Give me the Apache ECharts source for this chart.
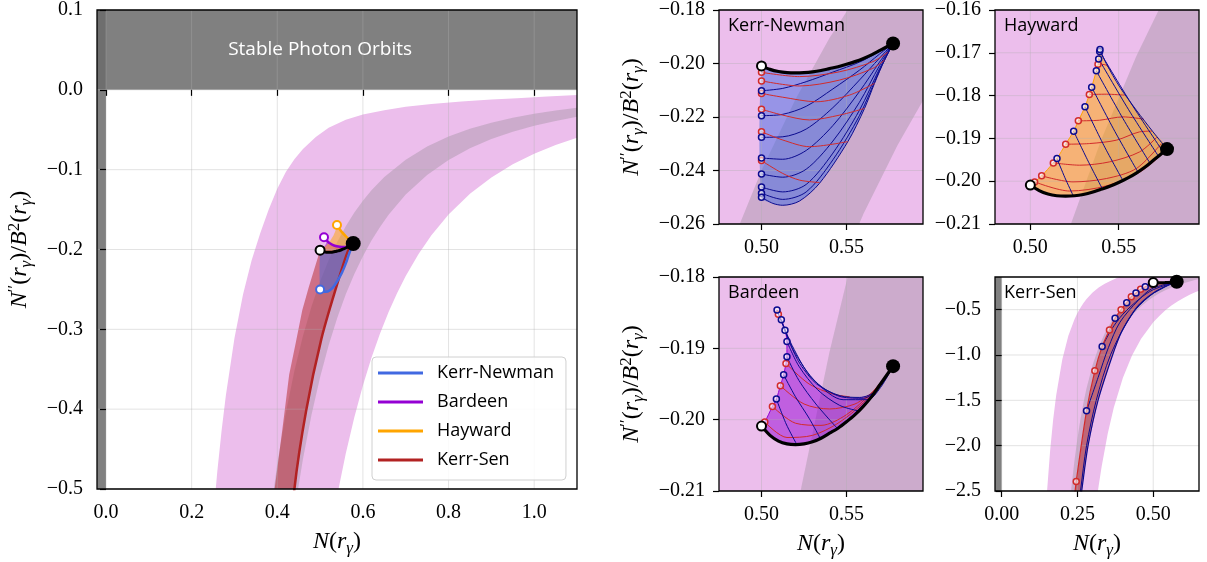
<!DOCTYPE html>
<html>
<head>
<meta charset="utf-8">
<script src="https://cdn.jsdelivr.net/npm/echarts@6/dist/echarts.min.js"></script>
<style>
html,body{margin:0;padding:0;background:#fff;}
#c{width:1207px;height:562px;}
</style>
</head>
<body>
<div id="c"></div>
<script>
// ---------- tick values ----------
const mainXTicks = [0, 0.2, 0.4, 0.6, 0.8, 1.0];
const mainYTicks = [-0.5, -0.4, -0.3, -0.2, -0.1, 0, 0.1];
const knXTicks = [0.5, 0.55];
const knYTicks = [-0.26, -0.24, -0.22, -0.20, -0.18];
const hayXTicks = [0.5, 0.55];
const hayYTicks = [-0.21, -0.20, -0.19, -0.18, -0.17, -0.16];
const bardXTicks = [0.5, 0.55];
const bardYTicks = [-0.21, -0.20, -0.19, -0.18];
const ksXTicks = [0, 0.25, 0.5];
const ksYTicks = [-2.5, -2.0, -1.5, -1.0, -0.5];

// ---------- region limits ----------
const stableFloor = 0;      // N''/B^2 > 0 : stable photon orbits
const horizonN = 0;         // N < 0 excluded

// ---------- observational bands (edges) ----------
const pinkUpper = [[0.14,-3.0612],[0.15,-2.4889],[0.16,-2.0508],[0.17,-1.7098],[0.18,-1.4403],[0.20,-1.05],[0.22,-0.7889],[0.24,-0.6076],[0.25,-0.5376],[0.26,-0.4779],[0.27,-0.4268],[0.28,-0.3827],[0.30,-0.3111],[0.32,-0.2563],[0.34,-0.2137],[0.36,-0.180],[0.38,-0.150],[0.40,-0.124],[0.42,-0.103],[0.44,-0.087],[0.46,-0.074],[0.49,-0.059],[0.52,-0.0475],[0.56,-0.0375],[0.60,-0.031],[0.65,-0.0255],[0.70,-0.0213],[0.76,-0.0178],[0.83,-0.0146],[0.90,-0.0122],[0.96,-0.0104],[1.03,-0.0085],[1.10,-0.0066],[1.15,-0.0056]];
const pinkLower = [[0.31,-2.6854],[0.32,-2.4414],[0.33,-2.2261],[0.35,-1.8659],[0.37,-1.5794],[0.40,-1.25],[0.43,-1.0062],[0.46,-0.8219],[0.50,-0.64],[0.52,-0.5690],[0.54,-0.5080],[0.56,-0.4555],[0.58,-0.4100],[0.60,-0.3704],[0.62,-0.3357],[0.64,-0.3052],[0.66,-0.2783],[0.68,-0.2544],[0.70,-0.2332],[0.73,-0.2056],[0.76,-0.1822],[0.80,-0.1563],[0.85,-0.1303],[0.90,-0.1097],[0.95,-0.0933],[1.00,-0.0800],[1.05,-0.0691],[1.10,-0.0601],[1.15,-0.0526]];
const grayUpper = [[0.22,-2.8174],[0.23,-2.4657],[0.24,-2.1701],[0.25,-1.92],[0.26,-1.7069],[0.27,-1.5242],[0.28,-1.3666],[0.30,-1.1111],[0.32,-0.9155],[0.34,-0.7633],[0.36,-0.6430],[0.38,-0.5467],[0.40,-0.4688],[0.42,-0.4049],[0.44,-0.3522],[0.46,-0.3082],[0.48,-0.2713],[0.50,-0.2400],[0.52,-0.2134],[0.54,-0.1905],[0.56,-0.1708],[0.58,-0.1538],[0.60,-0.1389],[0.62,-0.1259],[0.65,-0.1092],[0.70,-0.0875],[0.75,-0.0711],[0.80,-0.0586],[0.85,-0.0488],[0.90,-0.0412],[0.95,-0.0350],[1.00,-0.0300],[1.05,-0.0259],[1.10,-0.0225],[1.15,-0.0197]];
const grayLower = [[0.25,-2.88],[0.26,-2.5603],[0.27,-2.2862],[0.28,-2.0499],[0.30,-1.6667],[0.32,-1.3733],[0.34,-1.1449],[0.36,-0.9645],[0.38,-0.8201],[0.40,-0.7031],[0.42,-0.6074],[0.44,-0.5283],[0.46,-0.4623],[0.48,-0.4069],[0.50,-0.3600],[0.52,-0.3200],[0.54,-0.2858],[0.56,-0.2562],[0.58,-0.2306],[0.60,-0.2083],[0.62,-0.1888],[0.64,-0.1717],[0.66,-0.1565],[0.70,-0.1312],[0.75,-0.1067],[0.80,-0.0879],[0.85,-0.0733],[0.90,-0.0617],[0.95,-0.0525],[1.00,-0.0450],[1.05,-0.0389],[1.10,-0.0338],[1.15,-0.0296]];

// ---------- reference points and the non-rotating curve ----------
const schwarzschild = [[0.5774,-0.1925]];
const extremalRN = [[0.5,-0.2009]];
const blackCurve = [[0.5,-0.2009],[0.505,-0.2022],[0.51,-0.2030],[0.515,-0.2034],[0.52,-0.2035],[0.525,-0.2034],[0.53,-0.2031],[0.535,-0.2026],[0.54,-0.2019],[0.545,-0.2012],[0.55,-0.2003],[0.555,-0.1993],[0.56,-0.1981],[0.565,-0.1967],[0.57,-0.1950],[0.5774,-0.1925]];

// ---------- Kerr-Newman ----------
const knEdge = [[0.5,-0.2500],[0.5067,-0.2523],[0.5125,-0.2530],[0.5224,-0.2514],[0.5341,-0.2448],[0.5508,-0.2292],[0.5606,-0.2168],[0.5665,-0.2074],[0.5724,-0.1987],[0.5774,-0.1925]];
const knBlue = [
  [[0.5,-0.2102],[0.5125,-0.2093],[0.5263,-0.2068],[0.542,-0.2032],[0.5576,-0.1995],[0.5694,-0.1955],[0.5774,-0.1925]],
  [[0.5,-0.2195],[0.5125,-0.2190],[0.5263,-0.2160],[0.542,-0.2095],[0.5576,-0.2025],[0.5694,-0.1965],[0.5774,-0.1925]],
  [[0.5,-0.2276],[0.5125,-0.2274],[0.5263,-0.2245],[0.542,-0.2165],[0.5576,-0.2062],[0.5694,-0.1980],[0.5774,-0.1925]],
  [[0.5,-0.2353],[0.5125,-0.2358],[0.5263,-0.2325],[0.542,-0.2232],[0.5576,-0.2105],[0.5694,-0.1995],[0.5774,-0.1925]],
  [[0.5,-0.2413],[0.5125,-0.2425],[0.5263,-0.2395],[0.542,-0.2290],[0.5576,-0.2145],[0.5694,-0.2008],[0.5774,-0.1925]],
  [[0.5,-0.2462],[0.5125,-0.2480],[0.5263,-0.2452],[0.542,-0.2335],[0.5576,-0.2175],[0.5694,-0.2020],[0.5774,-0.1925]],
  [[0.5,-0.2485],[0.5125,-0.2508],[0.5263,-0.2480],[0.542,-0.2360],[0.5576,-0.2195],[0.5694,-0.2027],[0.5774,-0.1925]]
];
const knRed = [
  [[0.5,-0.2033],[0.5224,-0.2049],[0.5459,-0.2031],[0.5655,-0.1993],[0.5743,-0.1958]],
  [[0.5,-0.2065],[0.5224,-0.2084],[0.5459,-0.2062],[0.5655,-0.2018],[0.5724,-0.1987]],
  [[0.5,-0.2112],[0.5125,-0.2126],[0.5322,-0.2143],[0.5518,-0.2118],[0.5665,-0.2074]],
  [[0.5,-0.2171],[0.5125,-0.2193],[0.5282,-0.2211],[0.5459,-0.2193],[0.5606,-0.2168]],
  [[0.5,-0.2255],[0.5125,-0.2286],[0.5282,-0.2311],[0.5508,-0.2292]],
  [[0.5,-0.2363],[0.5125,-0.2411],[0.5224,-0.2436],[0.5341,-0.2445]]
];

// ---------- Hayward ----------
const hayLeft = [[0.5,-0.2009],[0.50245,-0.20016],[0.50642,-0.19875],[0.51302,-0.19572],[0.5151,-0.1947],[0.52001,-0.19136],[0.52454,-0.18832],[0.52718,-0.18590],[0.53096,-0.18263],[0.53341,-0.17975],[0.53473,-0.17804],[0.53737,-0.17422],[0.53832,-0.17266],[0.53869,-0.17142],[0.53926,-0.16970],[0.53945,-0.16924]];
const hayTop = [[0.53945,-0.16924],[0.5430,-0.17251],[0.55059,-0.17796],[0.56002,-0.18341],[0.56946,-0.18847],[0.5774,-0.1925]];
const hayBlue = [
  [[0.5151,-0.1947],[0.5196,-0.1992],[0.5242,-0.2033]],
  [[0.52454,-0.18832],[0.5327,-0.1953],[0.5408,-0.2018]],
  [[0.53096,-0.18263],[0.5417,-0.1917],[0.5525,-0.1999]],
  [[0.53473,-0.17804],[0.5479,-0.1884],[0.5610,-0.1979]],
  [[0.53737,-0.17422],[0.5525,-0.1854],[0.5676,-0.1957]],
  [[0.53869,-0.17142],[0.5555,-0.1832],[0.5723,-0.1940]],
  [[0.53926,-0.16970],[0.5572,-0.1819],[0.5751,-0.1931]]
];
const hayRed = [
  [[0.50245,-0.20016],[0.52227,-0.20230],[0.54304,-0.20110],[0.56191,-0.19790],[0.57607,-0.19315]],
  [[0.50642,-0.19875],[0.52416,-0.20016],[0.54304,-0.19938],[0.56002,-0.19704],[0.5742,-0.1912]],
  [[0.51302,-0.19572],[0.52793,-0.19626],[0.54492,-0.19548],[0.56191,-0.19315],[0.5717,-0.1897]],
  [[0.52001,-0.19136],[0.5336,-0.1912],[0.5487,-0.19042],[0.5619,-0.18847],[0.5689,-0.1883]],
  [[0.52718,-0.18590],[0.53926,-0.18575],[0.55247,-0.18497],[0.5642,-0.1855]],
  [[0.53341,-0.17975],[0.54304,-0.17967],[0.5534,-0.1799]],
  [[0.53832,-0.17266],[0.5430,-0.1729],[0.5455,-0.1742]]
];

// ---------- Bardeen ----------
const bardLeft = [[0.5,-0.2009],[0.50194,-0.20033],[0.50642,-0.19814],[0.50875,-0.19711],[0.51109,-0.19524],[0.51303,-0.19371],[0.51439,-0.19212],[0.51497,-0.19119],[0.51497,-0.18904],[0.51381,-0.18746],[0.51167,-0.18601],[0.50992,-0.18522],[0.50914,-0.18462]];
const bardTop = [[0.50914,-0.18462],[0.51692,-0.18942],[0.52275,-0.19221],[0.53248,-0.19501],[0.54609,-0.19664],[0.5578,-0.19688],[0.56748,-0.19594],[0.5774,-0.1925]];
const bardBlue = [
  [[0.50875,-0.19711],[0.5145,-0.2006],[0.5208,-0.2035]],
  [[0.51303,-0.19371],[0.5200,-0.1968],[0.5280,-0.1998],[0.5345,-0.2026]],
  [[0.51497,-0.19119],[0.5220,-0.1945],[0.5320,-0.1978],[0.5445,-0.2012]],
  [[0.51497,-0.18904],[0.5220,-0.1925],[0.5330,-0.1958],[0.5460,-0.1980],[0.5575,-0.1988]],
  [[0.51381,-0.18746],[0.5200,-0.1908],[0.5320,-0.1947],[0.5480,-0.1972],[0.5625,-0.1972],[0.5700,-0.1955],[0.5774,-0.1925]],
  [[0.51167,-0.18601],[0.5180,-0.1896],[0.5300,-0.1943],[0.5470,-0.1968],[0.5600,-0.1970],[0.5700,-0.1952],[0.5774,-0.1925]]
];
const bardRed = [
  [[0.50194,-0.20033],[0.5150,-0.2025],[0.5300,-0.2022],[0.5450,-0.2005],[0.5600,-0.1976],[0.5774,-0.1925]],
  [[0.50642,-0.19814],[0.5200,-0.2005],[0.5350,-0.2008],[0.5500,-0.1993],[0.5650,-0.1962],[0.5720,-0.1944]],
  [[0.51109,-0.19524],[0.5250,-0.1978],[0.5400,-0.1985],[0.5550,-0.1978],[0.5655,-0.1961]],
  [[0.51439,-0.19212],[0.5280,-0.1950],[0.5420,-0.1964],[0.5520,-0.1968]]
];
const bardBlueDots = [[0.50914,-0.18462],[0.51167,-0.18601],[0.51381,-0.18746],[0.51497,-0.18904],[0.51497,-0.19119],[0.51303,-0.19371],[0.50875,-0.19711]];
const bardRedDots = [[0.50992,-0.18522],[0.51439,-0.19212],[0.51109,-0.19524],[0.50642,-0.19814],[0.50194,-0.20033]];

// ---------- Kerr-Sen ----------
const ksLeft = [[0.2378,-2.65],[0.246,-2.394],[0.280,-1.616],[0.3074,-1.175],[0.3315,-0.907],[0.3556,-0.724],[0.3742,-0.595],[0.3939,-0.500],[0.4125,-0.423],[0.4278,-0.357],[0.4431,-0.317],[0.4584,-0.276],[0.4737,-0.247],[0.5,-0.2009]];
const ksRight = [[0.258,-2.65],[0.264,-2.5],[0.285,-2.0],[0.318,-1.5],[0.366,-1.0],[0.395,-0.75],[0.440,-0.5],[0.4675,-0.4016],[0.503,-0.312],[0.539,-0.245],[0.566,-0.2005],[0.5774,-0.1925]];
const ksBlue = [
  [[0.280,-1.616],[0.318,-1.25],[0.352,-0.92],[0.39,-0.64],[0.45,-0.40],[0.495,-0.27],[0.5774,-0.1925]],
  [[0.3315,-0.907],[0.362,-0.72],[0.40,-0.55],[0.455,-0.38],[0.50,-0.28],[0.5774,-0.1925]],
  [[0.254,-2.65],[0.260,-2.5],[0.280,-2.0],[0.312,-1.5],[0.359,-1.0],[0.430,-0.55],[0.50,-0.32],[0.5774,-0.1925]]
];
const ksRedDots = [[0.246,-2.394],[0.3074,-1.175],[0.3556,-0.724],[0.3939,-0.5],[0.4278,-0.357],[0.4584,-0.276]];
const ksBlueDots = [[0.280,-1.616],[0.3315,-0.907],[0.3742,-0.595],[0.4125,-0.423],[0.4431,-0.317],[0.4737,-0.247]];

// ---------- styling ----------
const C = {
  pink: '#ecbeec', gray: 'rgba(128,128,128,0.3)',
  kn: '#4169e1', bard: '#9400d3', hay: '#ffa500', ks: '#b22222',
  knFill: 'rgba(65,105,225,0.5)', bardFill: 'rgba(148,0,211,0.5)', hayFill: 'rgba(255,165,0,0.5)', ksFill: 'rgba(178,34,34,0.5)',
  thinBlue: '#0b0b8f', thinRed: '#d22b2b', grid: 'rgba(176,176,176,0.35)'
};
const SERIF = '"Liberation Serif", "DejaVu Serif", serif';
const SANS = '"Open Sans", "DejaVu Sans", sans-serif';

function fmt(v, d) { return v.toFixed(d).replace('-', '\u2212'); }
function join() {
  const out = [];
  for (const arr of arguments) for (const p of arr) {
    const q = out[out.length - 1];
    if (!q || q[0] !== p[0] || q[1] !== p[1]) out.push(p);
  }
  return out;
}
function rev(a) { return a.slice().reverse(); }

function clipPoly(pts, r) {
  const x0 = r.x, x1 = r.x + r.width, y0 = r.y, y1 = r.y + r.height;
  const edges = [
    [p => p[0] >= x0, (a, b) => [x0, a[1] + (x0 - a[0]) / (b[0] - a[0]) * (b[1] - a[1])]],
    [p => p[0] <= x1, (a, b) => [x1, a[1] + (x1 - a[0]) / (b[0] - a[0]) * (b[1] - a[1])]],
    [p => p[1] >= y0, (a, b) => [a[0] + (y0 - a[1]) / (b[1] - a[1]) * (b[0] - a[0]), y0]],
    [p => p[1] <= y1, (a, b) => [a[0] + (y1 - a[1]) / (b[1] - a[1]) * (b[0] - a[0]), y1]]
  ];
  let out = pts;
  for (const [inside, cut] of edges) {
    const inp = out; out = [];
    for (let i = 0; i < inp.length; i++) {
      const cur = inp[i], prev = inp[(i + inp.length - 1) % inp.length];
      if (inside(cur)) { if (!inside(prev)) out.push(cut(prev, cur)); out.push(cur); }
      else if (inside(prev)) out.push(cut(prev, cur));
    }
    if (!out.length) break;
  }
  return out;
}

const series = [];
function fill(gi, pts, color, z, smooth) {
  series.push({
    type: 'custom', xAxisIndex: gi, yAxisIndex: gi, z: z, silent: true, clip: true, data: [0],
    renderItem(params, api) {
      let px = pts.map(p => api.coord(p));
      if (!smooth) px = clipPoly(px, params.coordSys);
      return { type: 'polygon', shape: { points: px, smooth: smooth || 0 }, style: { fill: color } };
    }
  });
}
function line(gi, pts, color, width, z, name) {
  series.push({
    type: 'line', name: name, xAxisIndex: gi, yAxisIndex: gi, data: pts, symbol: 'none', showSymbol: false,
    smooth: 0.3, lineStyle: { color: color, width: width }, itemStyle: { color: color }, z: z, silent: true, clip: true
  });
}
function dots(gi, pts, edge, face, size, bw, z) {
  series.push({
    type: 'scatter', xAxisIndex: gi, yAxisIndex: gi, data: pts, symbol: 'circle', symbolSize: size,
    itemStyle: { color: face, borderColor: edge, borderWidth: bw, opacity: 1 }, z: z, silent: true, clip: true
  });
}
function gridLines(gi, xt, yt) {
  series.push({
    type: 'custom', xAxisIndex: gi, yAxisIndex: gi, z: 3, silent: true, data: [0],
    renderItem(params, api) {
      const r = params.coordSys, ch = [];
      xt.forEach(v => { const x = api.coord([v, yt[0]])[0]; ch.push({ type: 'line', shape: { x1: x, y1: r.y, x2: x, y2: r.y + r.height }, style: { stroke: C.grid, lineWidth: 1 } }); });
      yt.forEach(v => { const y = api.coord([xt[0], v])[1]; ch.push({ type: 'line', shape: { x1: r.x, y1: y, x2: r.x + r.width, y2: y }, style: { stroke: C.grid, lineWidth: 1 } }); });
      return { type: 'group', children: ch };
    }
  });
}
function bands(gi) {
  fill(gi, join(pinkUpper, rev(pinkLower)), C.pink, 1, 0);
  fill(gi, join(grayUpper, rev(grayLower)), C.gray, 1, 0);
}
const ringFace = 'rgba(255,255,255,0.55)';

// ---- main panel (grid 0) ----
series.push({
  type: 'custom', xAxisIndex: 0, yAxisIndex: 0, z: 1, silent: true, data: [0],
  renderItem(params, api) {
    const r = params.coordSys;
    const yS = api.coord([horizonN, stableFloor])[1];
    const xH = api.coord([horizonN, stableFloor])[0];
    const c = api.coord([0.5, 0.05]);
    return { type: 'group', children: [
      { type: 'rect', shape: { x: r.x, y: r.y, width: r.width, height: yS - r.y }, style: { fill: '#808080' } },
      { type: 'rect', shape: { x: r.x, y: r.y, width: xH - r.x, height: yS - r.y }, style: { fill: 'rgba(0,0,0,0.14)' } },
      { type: 'rect', shape: { x: r.x, y: yS, width: xH - r.x, height: r.y + r.height - yS }, style: { fill: '#808080' } },
      { type: 'text', x: c[0], y: c[1], style: { text: 'Stable Photon Orbits', font: '19px ' + SANS, fill: '#fff', align: 'center', verticalAlign: 'middle' } }
    ] };
  }
});
bands(0);
fill(0, join(ksLeft, blackCurve, rev(ksRight)), C.ksFill, 2, 0);
fill(0, join(blackCurve, rev(knEdge)), C.knFill, 2, 0.3);
fill(0, join(bardLeft, bardTop, rev(blackCurve)), C.bardFill, 2, 0.3);
fill(0, join(hayLeft, hayTop, rev(blackCurve)), C.hayFill, 2, 0.3);
gridLines(0, mainXTicks, mainYTicks);
line(0, ksRight, C.ks, 2.5, 5, 'Kerr-Sen');
line(0, hayTop, C.hay, 2.5, 5, 'Hayward');
line(0, bardTop, C.bard, 2.5, 5, 'Bardeen');
line(0, knEdge, C.kn, 2.5, 5, 'Kerr-Newman');
line(0, blackCurve, '#000', 3, 6);
dots(0, [knEdge[0]], C.kn, '#fff', 8, 2, 7);
dots(0, [bardTop[0]], C.bard, '#fff', 8, 2, 7);
dots(0, [hayTop[0]], C.hay, '#fff', 8, 2, 7);
dots(0, extremalRN, '#000', '#fff', 9, 2, 7);
dots(0, schwarzschild, '#000', '#000', 15, 0, 8);

// ---- Kerr-Newman panel (grid 1) ----
bands(1);
fill(1, join(blackCurve, rev(knEdge)), C.knFill, 2, 0.3);
gridLines(1, knXTicks, knYTicks);
knBlue.forEach(c => line(1, c, C.thinBlue, 1, 5));
line(1, knEdge, C.thinBlue, 1, 5);
knRed.forEach(c => line(1, c, C.thinRed, 1, 5));
line(1, blackCurve, '#000', 3.2, 6);
dots(1, knRed.map(c => c[0]), C.thinRed, ringFace, 6, 1.5, 7);
dots(1, knBlue.map(c => c[0]).concat([knEdge[0]]), C.thinBlue, ringFace, 6, 1.5, 7);
dots(1, extremalRN, '#000', '#fff', 9, 2, 8);
dots(1, schwarzschild, '#000', '#000', 14, 0, 8);

// ---- Hayward panel (grid 2) ----
bands(2);
fill(2, join(hayLeft, hayTop, rev(blackCurve)), C.hayFill, 2, 0.3);
gridLines(2, hayXTicks, hayYTicks);
hayRed.forEach(c => line(2, c, C.thinRed, 1, 5));
hayBlue.forEach(c => line(2, c, C.thinBlue, 1, 5));
line(2, hayTop, C.thinBlue, 1, 5);
line(2, hayLeft, C.hay, 1, 4);
line(2, blackCurve, '#000', 3.2, 6);
dots(2, hayRed.map(c => c[0]), C.thinRed, ringFace, 6, 1.5, 7);
dots(2, hayBlue.map(c => c[0]).concat([hayTop[0]]), C.thinBlue, ringFace, 6, 1.5, 7);
dots(2, extremalRN, '#000', '#fff', 9, 2, 8);
dots(2, schwarzschild, '#000', '#000', 14, 0, 8);

// ---- Bardeen panel (grid 3) ----
bands(3);
fill(3, join(bardLeft, bardTop, rev(blackCurve)), C.bardFill, 2, 0.3);
gridLines(3, bardXTicks, bardYTicks);
bardRed.forEach(c => line(3, c, C.thinRed, 1, 5));
bardBlue.forEach(c => line(3, c, C.thinBlue, 1, 5));
line(3, bardTop, C.thinBlue, 1, 5);
line(3, bardLeft, C.bard, 1, 4);
line(3, blackCurve, '#000', 3.2, 6);
dots(3, bardRedDots, C.thinRed, ringFace, 6, 1.5, 7);
dots(3, bardBlueDots, C.thinBlue, ringFace, 6, 1.5, 7);
dots(3, extremalRN, '#000', '#fff', 9, 2, 8);
dots(3, schwarzschild, '#000', '#000', 14, 0, 8);

// ---- Kerr-Sen panel (grid 4) ----
series.push({
  type: 'custom', xAxisIndex: 4, yAxisIndex: 4, z: 1, silent: true, data: [0],
  renderItem(params, api) {
    const r = params.coordSys;
    const xH = api.coord([horizonN, -1])[0];
    return { type: 'rect', shape: { x: r.x, y: r.y, width: xH - r.x, height: r.height }, style: { fill: '#808080' } };
  }
});
bands(4);
fill(4, join(ksLeft, blackCurve, rev(ksRight)), C.ksFill, 2, 0);
gridLines(4, ksXTicks, ksYTicks);
ksBlue.forEach(c => line(4, c, C.thinBlue, 1, 5));
line(4, ksRight, C.thinBlue, 1.2, 5);
line(4, ksLeft, C.thinRed, 1.2, 5);
line(4, blackCurve, '#000', 3, 6);
dots(4, ksRedDots, C.thinRed, ringFace, 6, 1.5, 7);
dots(4, ksBlueDots, C.thinBlue, ringFace, 6, 1.5, 7);
dots(4, extremalRN, '#000', '#fff', 9, 2, 8);
dots(4, schwarzschild, '#000', '#000', 14, 0, 8);

// ---------- axes ----------
const rich = {
  i: { fontFamily: SERIF, fontStyle: 'italic', fontSize: 24, color: '#000' },
  n: { fontFamily: SERIF, fontSize: 24, color: '#000' },
  sb: { fontFamily: SERIF, fontStyle: 'italic', fontSize: 17, color: '#000', padding: [13, 0, 0, 0] },
  sp: { fontFamily: SERIF, fontSize: 17, color: '#000', padding: [0, 0, 11, 0] }
};
const xTitle = '{i|N}{n|(}{i|r}{sb|\u03b3}{n|)}';
const yTitle = '{i|N}{sp|\u2032\u2032}{n|(}{i|r}{sb|\u03b3}{n|)/}{i|B}{sp|2}{n|(}{i|r}{sb|\u03b3}{n|)}';

function axis(dim, gi, min, max, ticks, dec, title, gap) {
  return {
    type: 'value', gridIndex: gi, min: min, max: max, z: 10,
    name: title || '', nameLocation: 'middle', nameGap: gap || 0,
    nameTextStyle: { rich: rich },
    axisLine: { show: false },
    splitLine: { show: false },
    axisTick: { show: true, customValues: ticks, length: 6, lineStyle: { color: '#000', width: 1.2 } },
    axisLabel: { customValues: ticks, formatter: v => fmt(v, dec), fontFamily: SERIF, fontSize: 20, color: '#000', margin: 14 }
  };
}

const option = {
  animation: false,
  backgroundColor: '#fff',
  grid: [
    { left: 97, top: 10, width: 480, height: 480 },
    { left: 719, top: 10, width: 204, height: 214 },
    { left: 995, top: 10, width: 204, height: 214 },
    { left: 719, top: 277, width: 204, height: 214 },
    { left: 995, top: 277, width: 204, height: 214 }
  ].map(g => Object.assign(g, { show: true, borderColor: '#000', borderWidth: 1.3, backgroundColor: 'transparent', z: 10 })),
  xAxis: [
    axis('x', 0, -0.021, 1.1, mainXTicks, 1, xTitle, 38),
    axis('x', 1, 0.475, 0.595, knXTicks, 2),
    axis('x', 2, 0.48, 0.5955, hayXTicks, 2),
    axis('x', 3, 0.475, 0.595, bardXTicks, 2, xTitle, 38),
    axis('x', 4, -0.022, 0.651, ksXTicks, 2, xTitle, 38)
  ],
  yAxis: [
    axis('y', 0, -0.5, 0.1, mainYTicks, 1, yTitle, 62),
    axis('y', 1, -0.26, -0.18, knYTicks, 2, yTitle, 72),
    axis('y', 2, -0.21, -0.16, hayYTicks, 2),
    axis('y', 3, -0.21, -0.18, bardYTicks, 2, yTitle, 72),
    axis('y', 4, -2.5, -0.14, ksYTicks, 1)
  ],
  legend: {
    left: 372, top: 357, orient: 'vertical',
    data: ['Kerr-Newman', 'Bardeen', 'Hayward', 'Kerr-Sen'].map(n => ({ name: n, icon: 'rect' })),
    itemWidth: 45, itemHeight: 3, itemGap: 9,
    padding: [6, 12, 10, 6],
    backgroundColor: 'rgba(255,255,255,0.85)', borderColor: '#d0d0d0', borderWidth: 1, borderRadius: 4,
    textStyle: { fontFamily: SANS, fontSize: 18, color: '#000', lineHeight: 20, padding: [0, 0, 0, 9] },
    selectedMode: false, z: 12
  },
  graphic: [
    { type: 'text', left: 728, top: 17, z: 20, style: { text: 'Kerr-Newman', font: '18px ' + SANS, fill: '#000' } },
    { type: 'text', left: 1004, top: 17, z: 20, style: { text: 'Hayward', font: '18px ' + SANS, fill: '#000' } },
    { type: 'text', left: 728, top: 284, z: 20, style: { text: 'Bardeen', font: '18px ' + SANS, fill: '#000' } },
    { type: 'text', left: 1004, top: 284, z: 20, style: { text: 'Kerr-Sen', font: '18px ' + SANS, fill: '#000' } }
  ],
  series: series
};

const chart = echarts.init(document.getElementById('c'));
chart.setOption(option);
</script>
</body>
</html>
